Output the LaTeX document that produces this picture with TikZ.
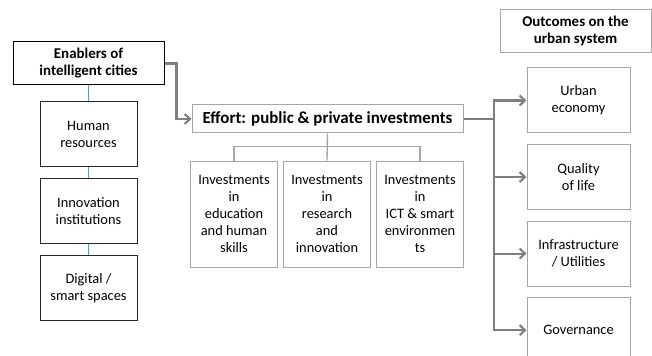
\documentclass[tikz,border=0pt]{standalone}
\usepackage{fontspec}
\setmainfont{Carlito}
\usetikzlibrary{positioning, arrows.meta}
\definecolor{boxgray}{HTML}{A6A6A6}
\definecolor{arrgray}{HTML}{7F7F7F}
\definecolor{linkblue}{HTML}{5B9BD5}

\tikzset{
    basebox/.style = {draw=boxgray, line width=0.75pt, align=center, inner sep=0pt,
                      font=\fontsize{10.8}{12.75}\selectfont},
    headbox/.style = {basebox, draw=black, line width=0.75pt, minimum width=113.25pt,
                      minimum height=32.25pt, font=\bfseries\fontsize{11.2}{12.75}\selectfont},
    enabler/.style = {basebox, draw=black!85, line width=0.75pt, minimum width=72.75pt, minimum height=48.5pt},
    effortbox/.style = {basebox, minimum width=203.25pt, minimum height=21pt,
                        font=\bfseries\fontsize{12.7}{15}\selectfont},
    invbox/.style = {basebox, minimum width=65.25pt, minimum height=79.5pt},
    outbox/.style = {basebox, minimum width=77.25pt, minimum height=48.75pt},
    flow/.style = {draw=arrgray, line width=1.6pt, -{Straight Barb[length=4pt, width=7.5pt]}},
    tree/.style = {draw=boxgray, line width=1pt},
    link/.style = {draw=linkblue, line width=0.75pt}
}

\begin{document}
\begin{tikzpicture}[x=0.75pt, y=-0.75pt, node distance = 8.25pt]
    \useasboundingbox (0,0) rectangle (652,356);

    % Enablers
    \node[headbox] (enab) at (88.5,63.5) {Enablers of\\intelligent cities};
    \node[enabler] (hr) [below=12pt of enab] {Human\\resources};
    \node[enabler] (inno) [below=of hr] {Innovation\\institutions};
    \node[enabler] (digi) [below=of inno] {Digital /\\smart spaces};

    % Effort and investments
    \node[effortbox] (effort) at (327.5,119) {Effort: public \& private investments};
    \node[invbox] (inv2) at (327,214) {Investments\\in\\research\\and\\innovation};
    \node[invbox] (inv1) [left=3.75pt of inv2] {Investments\\in\\education\\and human\\skills};
    \node[invbox] (inv3) [right=3.75pt of inv2] {Investments\\in\\ICT \& smart\\environmen\\ts};

    % Outcomes
    \node[headbox, draw=boxgray] (outc) at (575.5,31) {Outcomes on the\\urban system};
    \node[outbox] (urban) at (578.5,100.5) {Urban\\economy};
    \node[outbox] (qual) [below=7.9pt of urban] {Quality\\of life};
    \node[outbox] (infra) [below=7.9pt of qual] {Infrastructure\\/ Utilities};
    \node[outbox] (gov) [below=7.9pt of infra] {Governance};
    \coordinate (trunk) at (494,119);

    % Connections
    \path[link] (enab) edge (hr)
                (hr) edge (inno)
                (inno) edge (digi);
    \draw[flow] (enab.east) -- ++(12,0) |- (effort.west);
    \draw[tree] (effort.south) -- (inv2.north);
    \draw[tree] (inv1.north) -- ++(0,-14) -| (inv3.north);
    \draw[flow, -] (effort.east) -- (trunk);
    \draw[flow] (trunk) |- (urban.west);
    \draw[flow] (trunk) |- (qual.west);
    \draw[flow] (trunk) |- (infra.west);
    \draw[flow] (trunk) |- (gov.west);
\end{tikzpicture}
\end{document}
